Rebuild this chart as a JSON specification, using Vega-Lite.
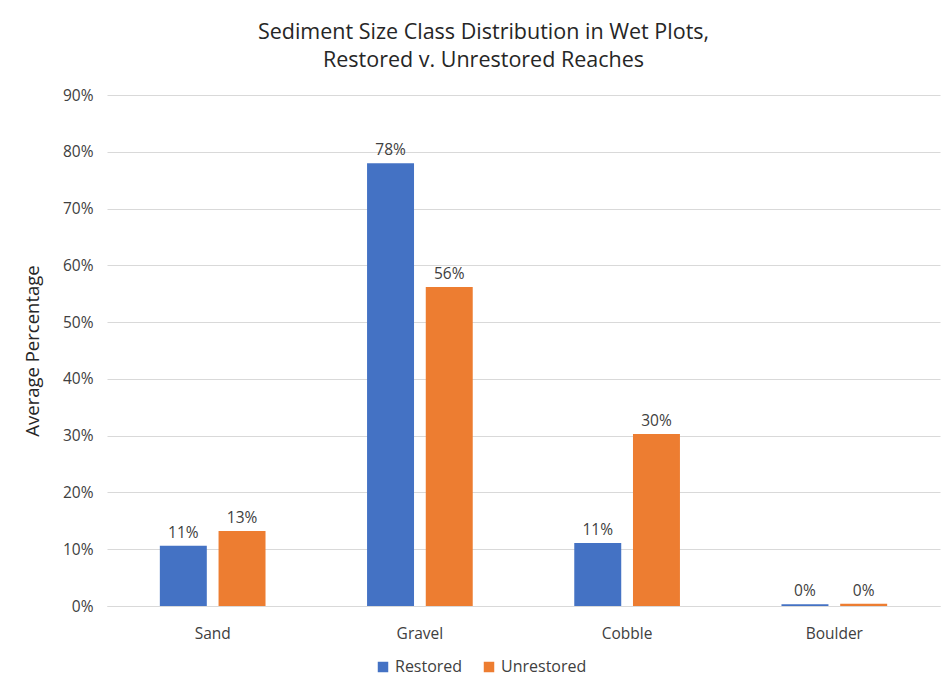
{
  "$schema": "https://vega.github.io/schema/vega-lite/v6.json",
  "autosize": "none",
  "width": 833,
  "height": 511,
  "padding": {"left": 107, "top": 95, "right": 5, "bottom": 85},
  "background": "white",
  "config": {
    "font": "Open Sans",
    "view": {"stroke": null}
  },
  "title": {
    "text": ["Sediment Size Class Distribution in Wet Plots,", "Restored v. Unrestored Reaches"],
    "anchor": "middle",
    "frame": "group",
    "dx": -40,
    "offset": 17,
    "fontSize": 21.5,
    "fontWeight": "normal",
    "color": "#262626",
    "lineHeight": 28
  },
  "data": {
    "values": [
      {"cls": "Sand", "reach": "Restored", "pct": 0.106},
      {"cls": "Sand", "reach": "Unrestored", "pct": 0.132},
      {"cls": "Gravel", "reach": "Restored", "pct": 0.780},
      {"cls": "Gravel", "reach": "Unrestored", "pct": 0.562},
      {"cls": "Cobble", "reach": "Restored", "pct": 0.111},
      {"cls": "Cobble", "reach": "Unrestored", "pct": 0.303},
      {"cls": "Boulder", "reach": "Restored", "pct": 0.003},
      {"cls": "Boulder", "reach": "Unrestored", "pct": 0.004}
    ]
  },
  "encoding": {
    "x": {
      "field": "cls", "type": "nominal", "sort": ["Sand", "Gravel", "Cobble", "Boulder"],
      "scale": {"paddingInner": 0.49, "paddingOuter": 0.255},
      "axis": {"title": null, "labelAngle": 0, "ticks": false, "domainColor": "#d9d9d9", "labelFontSize": 15.5, "labelColor": "#404040", "labelPadding": 20}
    },
    "xOffset": {"field": "reach", "type": "nominal", "scale": {"paddingInner": 0.2, "paddingOuter": 0}},
    "y": {
      "field": "pct", "type": "quantitative",
      "scale": {"domain": [0, 0.9]},
      "axis": {"title": "Average Percentage", "format": ".0%", "values": [0, 0.1, 0.2, 0.3, 0.4, 0.5, 0.6, 0.7, 0.8, 0.9], "domain": false, "ticks": false, "gridColor": "#d9d9d9", "labelFontSize": 15.5, "labelColor": "#404040", "labelPadding": 14, "titleFontSize": 18.5, "titleFontWeight": "normal", "titleColor": "#262626", "titlePadding": 20}
    }
  },
  "layer": [
    {
      "mark": {"type": "bar"},
      "encoding": {
        "color": {
          "field": "reach", "type": "nominal",
          "scale": {"domain": ["Restored", "Unrestored"], "range": ["#4472C4", "#ED7D31"]},
          "legend": {"title": null, "orient": "none", "direction": "horizontal", "legendX": 268, "legendY": 564, "symbolType": "square", "symbolSize": 110, "labelFontSize": 16, "labelColor": "#404040", "columnPadding": 18, "symbolOpacity": 1}
        }
      }
    },
    {
      "mark": {"type": "text", "dy": -13, "fontSize": 15.5, "color": "#404040"},
      "encoding": {
        "text": {"field": "pct", "type": "quantitative", "format": ".0%"}
      }
    }
  ]
}
